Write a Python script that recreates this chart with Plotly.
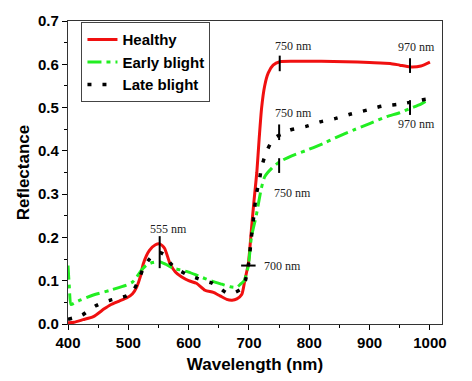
import plotly.graph_objects as go

# ---- data ----
healthy_wl = [400, 410, 425, 442, 460, 470, 485, 497, 507, 514, 520, 525, 535, 545, 552, 560, 569, 578, 588,
              600, 613, 627, 641, 652, 663, 672, 680, 688, 693, 699, 704, 708, 713, 717, 721, 726, 732, 740,
              751, 780, 820, 860, 900, 934, 950, 967, 985, 1000]
healthy_ref = [0.003, 0.004, 0.010, 0.017, 0.035, 0.044, 0.053, 0.060, 0.070, 0.086, 0.110, 0.140, 0.170, 0.183,
               0.185, 0.175, 0.140, 0.120, 0.109, 0.100, 0.094, 0.078, 0.073, 0.065, 0.057, 0.055, 0.058, 0.068,
               0.100, 0.140, 0.217, 0.280, 0.350, 0.430, 0.500, 0.550, 0.580, 0.598, 0.606, 0.607, 0.607, 0.606,
               0.604, 0.602, 0.598, 0.594, 0.596, 0.605]

early_wl = [400, 402, 405, 410, 420, 442, 470, 497, 507, 514, 522, 530, 540, 552, 562, 574, 586, 600, 613, 627,
            641, 655, 669, 680, 686, 692, 699, 704, 712, 720, 726, 738, 751, 770, 793, 823, 843, 873, 900, 928,
            950, 967, 985, 1000]
early_ref = [0.135, 0.090, 0.045, 0.048, 0.055, 0.067, 0.078, 0.090, 0.097, 0.109, 0.125, 0.136, 0.142, 0.144,
             0.138, 0.129, 0.125, 0.120, 0.113, 0.105, 0.098, 0.092, 0.086, 0.085, 0.092, 0.100, 0.135, 0.200,
             0.250, 0.310, 0.340, 0.360, 0.375, 0.388, 0.400, 0.417, 0.430, 0.448, 0.463, 0.479, 0.488, 0.498,
             0.508, 0.520]

late_wl = [400, 412, 424, 435, 446, 458, 470, 484, 497, 507, 515, 525, 535, 544, 552, 560, 570, 580, 588, 600,
           613, 625, 638, 650, 663, 675, 688, 694, 699, 704, 708, 712, 717, 721, 729, 737, 746, 757, 768, 796,
           818, 844, 869, 895, 920, 945, 967, 993, 1000]
late_ref = [0.011, 0.015, 0.021, 0.032, 0.042, 0.050, 0.055, 0.060, 0.065, 0.075, 0.095, 0.129, 0.150, 0.162,
            0.165, 0.160, 0.140, 0.127, 0.121, 0.112, 0.106, 0.100, 0.095, 0.085, 0.072, 0.072, 0.082, 0.100,
            0.135, 0.200, 0.250, 0.298, 0.330, 0.363, 0.398, 0.420, 0.433, 0.440, 0.448, 0.457, 0.467, 0.475,
            0.485, 0.494, 0.503, 0.507, 0.512, 0.519, 0.520]

# feature markers: (wavelength, reflectance) of the marked point and label placement
mark_wl = [552, 751, 967, 750, 750, 967]
mark_ref = [0.166, 0.602, 0.597, 0.443, 0.366, 0.500]
mark_half = [0.037, 0.018, 0.017, 0.018, 0.017, 0.017]
label_text = ["555 nm", "750 nm", "970 nm", "750 nm", "750 nm", "970 nm"]
label_wl = [567, 774, 977, 774, 772, 978]
label_ref = [0.219, 0.642, 0.640, 0.487, 0.302, 0.463]

h700_wl = 699
h700_ref = 0.135
h700_half = 12
h700_label = "700 nm"
h700_label_wl = 721

x_ticks = [400, 500, 600, 700, 800, 900, 1000]
y_ticks = [0.0, 0.1, 0.2, 0.3, 0.4, 0.5, 0.6, 0.7]

BOLD = dict(family="Arial, Liberation Sans, sans-serif", color="black", weight="bold")
SERIF = dict(family="Times New Roman, Liberation Serif, serif", color="#222222", size=12)

fig = go.Figure()
fig.add_trace(go.Scatter(x=healthy_wl, y=healthy_ref, mode="lines", name="Healthy",
                         line=dict(color="#f01010", width=3, shape="spline", smoothing=0.6)))
fig.add_trace(go.Scatter(x=early_wl, y=early_ref, mode="lines", name="Early blight",
                         line=dict(color="#22ee22", width=3, shape="spline", smoothing=0.6,
                                   dash="14px,5px,4px,5px")))
fig.add_trace(go.Scatter(x=late_wl, y=late_ref, mode="lines", name="Late blight",
                         line=dict(color="black", width=3.5, shape="spline", smoothing=0.6,
                                   dash="4px,11px")))

for wl, r, hh in zip(mark_wl, mark_ref, mark_half):
    fig.add_shape(type="line", x0=wl, x1=wl, y0=r - hh, y1=r + hh,
                  line=dict(color="black", width=2), layer="above")
for t, wl, r in zip(label_text, label_wl, label_ref):
    fig.add_annotation(x=wl, y=r, text=t, showarrow=False, font=SERIF,
                       xanchor="center", yanchor="middle")

fig.add_shape(type="line", x0=h700_wl - h700_half, x1=h700_wl + h700_half, y0=h700_ref, y1=h700_ref,
              line=dict(color="black", width=2), layer="above")
fig.add_annotation(x=h700_label_wl, y=h700_ref, text=h700_label, showarrow=False, font=SERIF,
                   xanchor="left", yanchor="middle")

fig.update_layout(
    width=472, height=381,
    margin=dict(l=60, r=38, t=13, b=65, autoexpand=False),
    plot_bgcolor="white", paper_bgcolor="white",
    showlegend=True,
    legend=dict(x=0.036, y=0.996, xanchor="left", yanchor="top",
                bordercolor="#444444", borderwidth=1, bgcolor="white",
                font=dict(size=15, **BOLD), itemwidth=30, tracegroupgap=0),
)
fig.update_xaxes(range=[400, 1020], tickvals=x_ticks, ticktext=[str(v) for v in x_ticks],
                 ticks="outside", ticklen=5, tickwidth=1, tickcolor="black",
                 minor=dict(dtick=50, tick0=400, ticks="outside", ticklen=3, tickcolor="black"),
                 showline=True, linecolor="#333333", linewidth=1.2, mirror=True,
                 showgrid=False, zeroline=False, automargin=False,
                 tickfont=dict(size=15, **BOLD),
                 title=dict(text="Wavelength (nm)", font=dict(size=17, **BOLD), standoff=8))
fig.update_yaxes(range=[0, 0.7], tickvals=y_ticks, ticktext=[f"{v:.1f}" for v in y_ticks],
                 ticks="outside", ticklen=5, tickwidth=1, tickcolor="black",
                 minor=dict(dtick=0.05, tick0=0, ticks="outside", ticklen=3, tickcolor="black"),
                 showline=True, linecolor="#333333", linewidth=1.2, mirror=True,
                 showgrid=False, zeroline=False, automargin=False,
                 tickfont=dict(size=15, **BOLD),
                 title=dict(text="Reflectance", font=dict(size=17, **BOLD), standoff=4))

fig.write_html("out.html")
